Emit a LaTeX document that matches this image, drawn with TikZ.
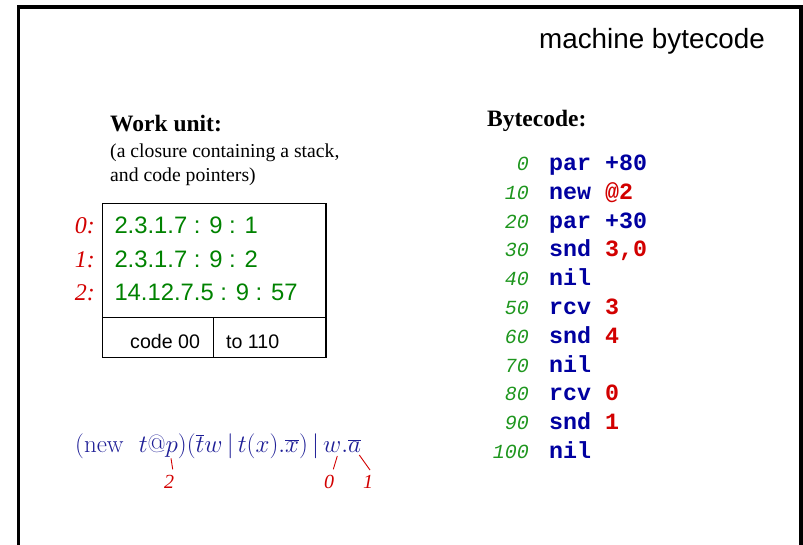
\RequirePackage{fix-cm}
\documentclass[tikz,border=0pt]{standalone}
\usepackage{fontspec}
\usepackage{xcolor}
\newfontfamily\arialf{Liberation Sans}
\newfontfamily\tmsf{Liberation Serif}
\newfontfamily\courf{Liberation Mono}
\definecolor{formblue}{RGB}{30,30,150}
\definecolor{opblue}{RGB}{0,0,160}
\definecolor{argred}{RGB}{210,0,0}
\definecolor{numgreen}{RGB}{30,150,30}
\definecolor{stackgreen}{RGB}{0,130,0}
\definecolor{labred}{RGB}{210,0,0}
\tikzset{
  lbl/.style={inner sep=0pt, anchor=base west},
  rlbl/.style={inner sep=0pt, anchor=base east},
  stackent/.style={lbl, text=stackgreen, font=\arialf\fontsize{23.8}{28}\selectfont},
  stacklab/.style={rlbl, text=labred, font=\tmsf\itshape\fontsize{24}{28}\selectfont},
  lineno/.style={rlbl, text=numgreen, font=\courf\itshape\fontsize{20}{24}\selectfont},
  opcode/.style={lbl, text=opblue, font=\courf\bfseries\fontsize{23.3}{28}\selectfont},
  annot/.style={draw=labred, line width=0.9pt},
  annotlab/.style={inner sep=0pt, text=labred, font=\tmsf\itshape\fontsize{20}{24}\selectfont},
  boxline/.style={line width=1.2pt}
}
\begin{document}
\begin{tikzpicture}[x=1pt,y=1pt]
\useasboundingbox (0,0) rectangle (803,-545);
% frame
\draw[line width=3.2pt] (18.4,-546) -- (18.4,-7) -- (801,-7) -- (801,-546);
% title
\node[lbl, font=\arialf\fontsize{27.8}{32}\selectfont] (title) at (539,-48.3) {machine bytecode};
% work unit
\node[lbl, font=\tmsf\bfseries\fontsize{23.5}{28}\selectfont] (wu) at (110,-131.5) {Work unit:};
\node[lbl, font=\tmsf\fontsize{19.7}{24}\selectfont] (wu1) at (110,-157.5) {(a closure containing a stack,};
\node[lbl, font=\tmsf\fontsize{19.7}{24}\selectfont] (wu2) at (110,-182) {and code pointers)};
% box
\node[draw, boxline, inner sep=0pt, minimum width=223.3pt, minimum height=153.7pt, anchor=north west] (box) at (102,-203.3) {};
\coordinate (sepL) at (102,-317.7);
\coordinate (sepR) at (325.3,-317.7);
\coordinate (divT) at (213.3,-317.7);
\coordinate (divB) at (213.3,-357);
\draw[boxline] (sepL) -- (sepR);
\draw[boxline] (divT) -- (divB);
\node[stackent] (s0) at (114.3,-233.5) {2.3.1.7 : 9 : 1};
\node[stackent] (s1) at (114.3,-267.2) {2.3.1.7 : 9 : 2};
\node[stackent] (s2) at (114.3,-301) {14.12.7.5 : 9 : 57};
\node[stacklab] (i0) at (95,-233.5) {0:};
\node[stacklab] (i1) at (95,-267.2) {1:};
\node[stacklab] (i2) at (95,-301) {2:};
\node[lbl, font=\arialf\fontsize{19.6}{24}\selectfont] (code) at (130,-348.3) {code 00};
\node[lbl, font=\arialf\fontsize{19.6}{24}\selectfont] (to) at (226,-348.3) {to 110};
% bytecode
\node[lbl, font=\tmsf\bfseries\fontsize{23.5}{28}\selectfont] (bc) at (487,-126.5) {Bytecode:};
\foreach \n/\op/\arg/\col [count=\i from 0] in {
  0/par/+80/opblue, 10/new/@2/argred, 20/par/+30/opblue, 30/snd/{3,0}/argred,
  40/nil//argred, 50/rcv/3/argred, 60/snd/4/argred, 70/nil//argred,
  80/rcv/0/argred, 90/snd/1/argred, 100/nil//argred}{
  \node[lineno] (n\i) at (529,{-(170.5+28.8*\i)}) {\n};
  \node[opcode] (op\i) at (549,{-(170.5+28.8*\i)}) {\op{} \textcolor{\col}{\arg}};
}
% formula
\node[lbl, text=formblue, font=\fontsize{25}{30}\selectfont] (form) at (75,-452)
  {$(\mathrm{new}\ \ t@p)\bigl(\overline{t}w\,|\,t(x).\overline{x}\bigr)\,|\,w.\overline{a}$};
\coordinate (a2) at (171,-458.3);
\coordinate (b2) at (172.7,-469.3);
\coordinate (a0) at (337.3,-456);
\coordinate (b0) at (333.3,-469.3);
\coordinate (a1) at (359.3,-455);
\coordinate (b1) at (370,-470);
\draw[annot] (a2) -- (b2);
\draw[annot] (a0) -- (b0);
\draw[annot] (a1) -- (b1);
\node[annotlab] (l2) at (169,-482) {2};
\node[annotlab] (l0) at (329,-482) {0};
\node[annotlab] (l1) at (368,-482) {1};
\end{tikzpicture}
\end{document}
